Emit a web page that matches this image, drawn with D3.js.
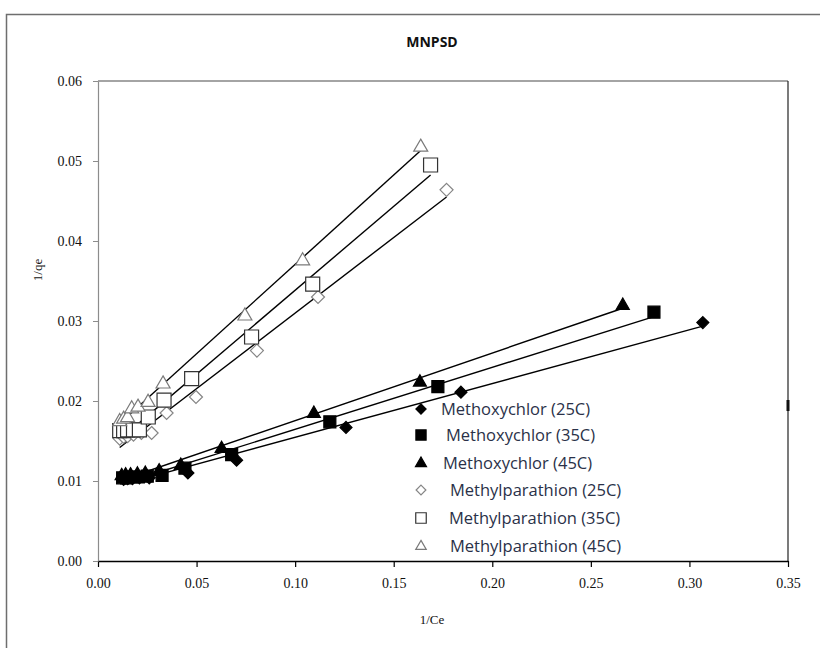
<!DOCTYPE html>
<html>
<head>
<meta charset="utf-8">
<script src="https://cdn.jsdelivr.net/npm/d3@7"></script>
<style>
  body { margin: 0; background: #fff; }
  svg { display: block; }
</style>
</head>
<body>
<svg id="chart" width="820" height="648"></svg>
<script>
var chartTitle = "MNPSD";
var xTicks = [0, 0.05, 0.10, 0.15, 0.20, 0.25, 0.30, 0.35];
var yTicks = [0, 0.01, 0.02, 0.03, 0.04, 0.05, 0.06];

// Methoxychlor (filled markers)
var mxc25x = [0.0130, 0.0150, 0.0175, 0.0210, 0.0260, 0.0456, 0.0703, 0.1258, 0.1841, 0.3068];
var mxc25y = [0.0102, 0.0103, 0.0103, 0.0104, 0.0104, 0.0110, 0.0126, 0.0167, 0.0211, 0.0298];
var mxc35x = [0.0125, 0.0145, 0.0170, 0.0205, 0.0250, 0.0325, 0.0441, 0.0678, 0.1176, 0.1724, 0.2820];
var mxc35y = [0.0104, 0.0104, 0.0105, 0.0105, 0.0106, 0.0107, 0.0116, 0.0133, 0.0174, 0.0218, 0.0311];
var mxc45x = [0.0120, 0.0140, 0.0165, 0.0200, 0.0240, 0.0310, 0.0420, 0.0627, 0.1095, 0.1633, 0.2662];
var mxc45y = [0.0107, 0.0108, 0.0108, 0.0109, 0.0110, 0.0113, 0.0120, 0.0141, 0.0185, 0.0224, 0.0320];

// Methylparathion (open markers)
var mp25x = [0.0110, 0.0130, 0.0150, 0.0180, 0.0220, 0.0272, 0.0348, 0.0497, 0.0806, 0.1116, 0.1768];
var mp25y = [0.0153, 0.0155, 0.0156, 0.0158, 0.0160, 0.0160, 0.0185, 0.0205, 0.0263, 0.0330, 0.0464];
var mp35x = [0.0110, 0.0130, 0.0150, 0.0180, 0.0210, 0.0255, 0.0335, 0.0475, 0.0779, 0.1089, 0.1687];
var mp35y = [0.0163, 0.0163, 0.0164, 0.0164, 0.0164, 0.0180, 0.0201, 0.0228, 0.0280, 0.0346, 0.0495];
var mp45x = [0.0110, 0.0130, 0.0150, 0.0171, 0.0203, 0.0254, 0.0330, 0.0745, 0.1038, 0.1637];
var mp45y = [0.0175, 0.0178, 0.0180, 0.0191, 0.0193, 0.0199, 0.0222, 0.0307, 0.0376, 0.0518];

var seriesNames = ["Methoxychlor (25C)", "Methoxychlor (35C)", "Methoxychlor (45C)",
                   "Methylparathion (25C)", "Methylparathion (35C)", "Methylparathion (45C)"];

var svg = d3.select("#chart");

var pLeft = 98, pRight = 788, pTop = 81, pBottom = 561;

var x = d3.scaleLinear().domain([0, 0.35]).range([pLeft, pRight]);
var y = d3.scaleLinear().domain([0, 0.06]).range([pBottom, pTop]);

// outer chart border
svg.append("rect")
  .attr("x", 6.5).attr("y", 14.5)
  .attr("width", 840).attr("height", 660)
  .attr("fill", "none").attr("stroke", "#6e6e6e").attr("stroke-width", 1.5);

// custom symbols, size = half width
var diamond = { draw: function(ctx, s) { ctx.moveTo(0, -s); ctx.lineTo(s, 0); ctx.lineTo(0, s); ctx.lineTo(-s, 0); ctx.closePath(); } };
var square = { draw: function(ctx, s) { ctx.rect(-s, -s, 2 * s, 2 * s); } };
var triangle = { draw: function(ctx, s) { var h = s * 1.732; ctx.moveTo(0, -h * 0.62); ctx.lineTo(s, h * 0.38); ctx.lineTo(-s, h * 0.38); ctx.closePath(); } };

var styles = [
  { type: diamond, size: 6, fill: "#000", stroke: "#000" },
  { type: square, size: 6, fill: "#000", stroke: "#000" },
  { type: triangle, size: 6.5, fill: "#000", stroke: "#000" },
  { type: diamond, size: 6.5, fill: "#fff", stroke: "#858585" },
  { type: square, size: 7, fill: "#fff", stroke: "#333" },
  { type: triangle, size: 7, fill: "#fff", stroke: "#7a7a7a" }
];

var series = [
  [mxc25x, mxc25y], [mxc35x, mxc35y], [mxc45x, mxc45y],
  [mp25x, mp25y], [mp35x, mp35y], [mp45x, mp45y]
].map(function(p, i) {
  return { name: seriesNames[i], style: styles[i], pts: p[0].map(function(v, j) { return [v, p[1][j]]; }) };
});

// plot frame: top and right lines
svg.append("line").attr("x1", pLeft).attr("x2", pRight).attr("y1", pTop).attr("y2", pTop)
  .attr("stroke", "#4a4a4a").attr("stroke-width", 1.2);
svg.append("line").attr("x1", pRight).attr("x2", pRight).attr("y1", pTop).attr("y2", pBottom)
  .attr("stroke", "#222").attr("stroke-width", 1.2);
svg.append("rect").attr("x", pRight - 1.5).attr("y", 400).attr("width", 3).attr("height", 11).attr("fill", "#111");

// axes
var xAxis = d3.axisBottom(x).tickValues(xTicks).tickSize(6).tickSizeOuter(0)
  .tickFormat(d3.format(".2f"));
var yAxis = d3.axisLeft(y).tickValues(yTicks).tickSize(5).tickSizeOuter(0)
  .tickFormat(d3.format(".2f"));

var gx = svg.append("g").attr("transform", "translate(0," + pBottom + ")").call(xAxis);
gx.select(".domain").attr("stroke", "#000").attr("stroke-width", 1.5);
gx.selectAll(".tick line").attr("stroke", "#000").attr("stroke-width", 1.2);
gx.selectAll("text").attr("font-family", "Liberation Serif").attr("font-size", 14)
  .attr("fill", "#111").attr("dy", "1.25em");

var gy = svg.append("g").attr("transform", "translate(" + pLeft + ",0)").call(yAxis);
gy.select(".domain").attr("stroke", "#8c8c8c").attr("stroke-width", 1.2);
gy.selectAll(".tick line").attr("stroke", "#8c8c8c");
gy.selectAll("text").attr("font-family", "Liberation Serif").attr("font-size", 14)
  .attr("fill", "#111").attr("x", -16);

// linear trendlines (least squares over each series)
function fit(pts) {
  var mx = d3.mean(pts, d => d[0]), my = d3.mean(pts, d => d[1]);
  var sxy = d3.sum(pts, d => (d[0] - mx) * (d[1] - my));
  var sxx = d3.sum(pts, d => (d[0] - mx) * (d[0] - mx));
  var b = sxy / sxx;
  return { b: b, a: my - b * mx };
}

series.forEach(function(s) {
  var f = fit(s.pts);
  var x0 = d3.min(s.pts, d => d[0]), x1 = d3.max(s.pts, d => d[0]);
  svg.append("line")
    .attr("x1", x(x0)).attr("y1", y(f.a + f.b * x0))
    .attr("x2", x(x1)).attr("y2", y(f.a + f.b * x1))
    .attr("stroke", "#000").attr("stroke-width", 1.4);
});

// markers
series.forEach(function(s) {
  svg.append("g").selectAll("path")
    .data(s.pts)
    .enter().append("path")
    .attr("transform", d => "translate(" + x(d[0]) + "," + y(d[1]) + ")")
    .attr("d", d3.symbol().type(s.style.type).size(s.style.size))
    .attr("fill", s.style.fill)
    .attr("stroke", s.style.stroke)
    .attr("stroke-width", 1.2);
});

// legend
var legY = [409, 435, 463, 490, 518, 546];
var legTx = [441, 446, 443, 450, 449, 450];
var leg = svg.append("g");
series.forEach(function(s, i) {
  var sz = s.style.fill === "#000" ? s.style.size * 0.85 : s.style.size * 0.75;
  leg.append("path")
    .attr("transform", "translate(421," + legY[i] + ")")
    .attr("d", d3.symbol().type(s.style.type).size(sz))
    .attr("fill", s.style.fill).attr("stroke", s.style.stroke).attr("stroke-width", 1.2);
  leg.append("text")
    .attr("x", legTx[i]).attr("y", legY[i]).attr("dy", "0.36em")
    .attr("font-family", "Open Sans").attr("font-size", 16.5)
    .attr("fill", "#2a3148")
    .text(s.name);
});

// titles
svg.append("text").attr("x", 432).attr("y", 47).attr("text-anchor", "middle")
  .attr("font-family", "Open Sans").attr("font-weight", "bold").attr("font-size", 14)
  .attr("fill", "#111").text(chartTitle);

svg.append("text").attr("x", 432).attr("y", 624).attr("text-anchor", "middle")
  .attr("font-family", "Liberation Serif").attr("font-size", 13).attr("fill", "#111").text("1/Ce");

svg.append("text").attr("transform", "translate(37,270) rotate(-90)").attr("text-anchor", "middle")
  .attr("dy", "0.35em")
  .attr("font-family", "Liberation Serif").attr("font-size", 13).attr("fill", "#111").text("1/qe");
</script>
</body>
</html>
